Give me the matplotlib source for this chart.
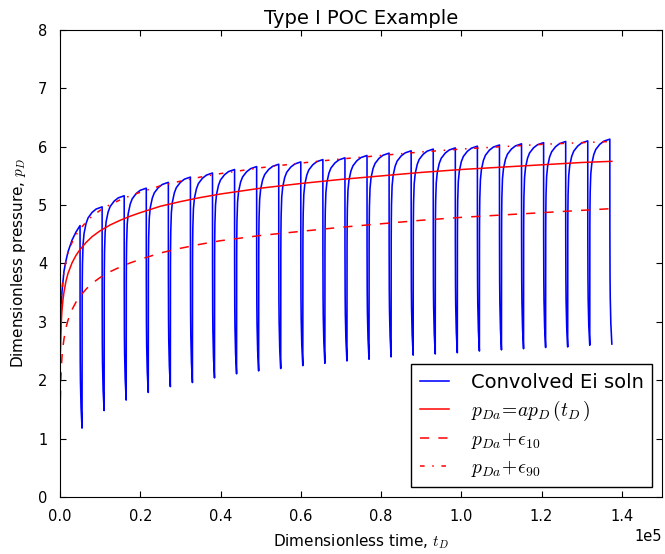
import numpy as np
import matplotlib
matplotlib.use('Agg')
import matplotlib.pyplot as plt

plt.rcParams['mathtext.fontset'] = 'cm'
plt.rcParams['font.family'] = 'DejaVu Sans'

# cycle timing, dimensionless time
cycle_len = 5500
prod_len = 5000
n_cycles = 25

# blue curve: pressure at end of each production period
peak_p = [4.65, 4.97, 5.16, 5.29, 5.39, 5.48, 5.55, 5.61, 5.66, 5.70,
          5.74, 5.78, 5.81, 5.85, 5.89, 5.93, 5.96, 5.98, 6.01, 6.03,
          6.05, 6.07, 6.09, 6.10, 6.13]
# pressure at end of each shut-in
trough_p = [1.18, 1.48, 1.66, 1.79, 1.89, 1.96, 2.04, 2.11, 2.16, 2.20,
            2.25, 2.29, 2.33, 2.36, 2.40, 2.43, 2.45, 2.47, 2.50, 2.52,
            2.54, 2.56, 2.57, 2.60, 2.62]

# shape of the rise after restart (fraction of production time, fraction of rise)
rise_s = [0, 0.002, 0.005, 0.01, 0.02, 0.05, 0.1, 0.2, 0.3, 0.5, 0.7, 1.0]
rise_f = [0, 0.44, 0.57, 0.66, 0.74, 0.83, 0.88, 0.925, 0.95, 0.975, 0.99, 1.0]
# shape of the fall during shut-in (fraction of shut-in time, fraction of drop)
fall_s = [0, 0.002, 0.02, 0.1, 0.2, 0.5, 1.0]
fall_f = [0, 0.12, 0.44, 0.67, 0.77, 0.90, 1.0]

# first production period starts from rest
first_t = [20, 50, 100, 250, 500, 1000, 1500, 2000, 3000, 4000, 5000]
first_p = [1.9, 2.4, 2.75, 3.2, 3.52, 3.87, 4.05, 4.2, 4.4, 4.54, 4.65]

# reference curves
ref_t = [50, 100, 200, 350, 500, 750, 1000, 1500, 2000, 3000, 4000, 5000,
         6500, 8000, 10000, 12500, 15000, 17500, 20000, 25000, 30000, 35000,
         40000, 50000, 60000, 70000, 80000, 90000, 100000, 110000, 120000,
         130000, 137500]
pda = [2.15, 2.46, 2.78, 3.03, 3.20, 3.38, 3.51, 3.70, 3.83, 4.01, 4.14, 4.24,
       4.36, 4.46, 4.56, 4.66, 4.74, 4.81, 4.87, 4.98, 5.06, 5.13,
       5.19, 5.29, 5.37, 5.44, 5.50, 5.56, 5.61, 5.65, 5.69,
       5.73, 5.75]
pda_e10 = [1.35, 1.66, 1.98, 2.23, 2.40, 2.58, 2.71, 2.90, 3.03, 3.21, 3.34, 3.44,
           3.56, 3.66, 3.76, 3.86, 3.94, 4.01, 4.07, 4.18, 4.26, 4.33,
           4.39, 4.48, 4.55, 4.62, 4.68, 4.74, 4.79, 4.83, 4.87,
           4.91, 4.94]
pda_e90 = [2.50, 2.81, 3.13, 3.38, 3.55, 3.73, 3.86, 4.05, 4.18, 4.36, 4.49, 4.59,
           4.71, 4.81, 4.91, 5.01, 5.09, 5.16, 5.22, 5.33, 5.41, 5.48,
           5.54, 5.64, 5.72, 5.79, 5.85, 5.91, 5.96, 6.00, 6.04,
           6.07, 6.09]

# build the convolved curve cycle by cycle
t_all = list(first_t)
p_all = list(first_p)
for k in range(n_cycles):
    t0 = k * cycle_len
    if k > 0:
        lo = trough_p[k - 1]
        for s, f in zip(rise_s[1:], rise_f[1:]):
            t_all.append(t0 + s * prod_len)
            p_all.append(lo + f * (peak_p[k] - lo))
    for s, g in zip(fall_s[1:], fall_f[1:]):
        t_all.append(t0 + prod_len + s * (cycle_len - prod_len))
        p_all.append(peak_p[k] - g * (peak_p[k] - trough_p[k]))

fig = plt.figure(figsize=(6.65, 5.54), dpi=100)
ax = fig.add_axes([0.0902, 0.1029, 0.9053, 0.8430])

ax.plot(t_all, p_all, color='#0000ff', lw=1.15, label='Convolved Ei soln')
ax.plot(ref_t, pda, color='#ff0000', lw=1.1, label=r'$p_{Da}\!=\!ap_D\,(t_D\,)$')
ax.plot(ref_t, pda_e10, color='#ff0000', lw=1.1, dashes=(6, 6),
        label=r'$p_{Da}\!+\!\epsilon_{10}$')
ax.plot(ref_t, pda_e90, color='#ff0000', lw=1.1, dashes=(3, 5, 1, 5),
        label=r'$p_{Da}\!+\!\epsilon_{90}$')

ax.set_xlim(0, 150000)
ax.set_ylim(0, 8)
ax.ticklabel_format(axis='x', style='sci', scilimits=(0, 0))
ax.tick_params(direction='in', top=True, right=True, length=4, width=0.8,
               labelsize=10.5)
ax.tick_params(axis='x', pad=9)
ax.tick_params(axis='y', pad=9)
ax.xaxis.get_offset_text().set_fontsize(10.5)
ax.set_title('Type I POC Example', fontsize=14, pad=4)
ax.set_xlabel(r'Dimensionless time, $t_D$', fontsize=11, labelpad=6)
ax.set_ylabel(r'Dimensionless pressure, $p_D$', fontsize=11, labelpad=7)

leg = ax.legend(loc='lower right', fontsize=14, fancybox=False, framealpha=1,
                edgecolor='black', handlelength=1.5, handletextpad=1.1,
                labelspacing=0.35, borderpad=0.45)
leg.get_frame().set_linewidth(1.0)

fig.savefig('out.png', dpi=100, facecolor='white')
